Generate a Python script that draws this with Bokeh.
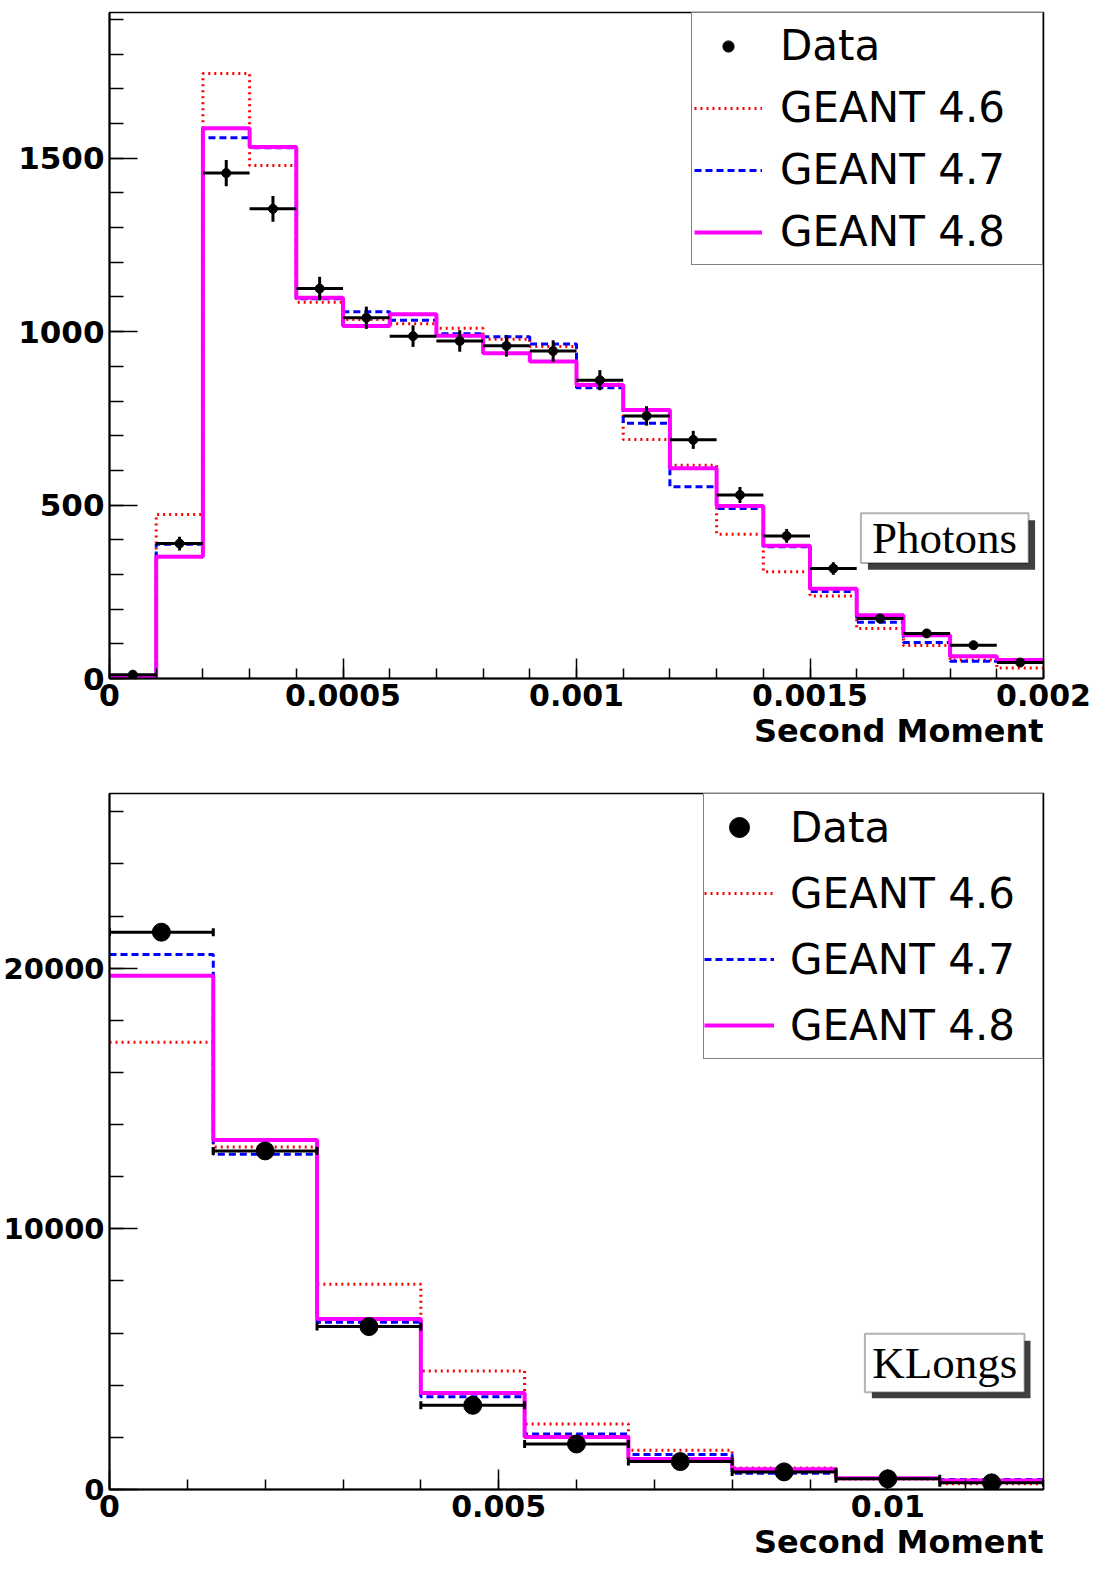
import numpy as np
from bokeh.plotting import figure
from bokeh.layouts import column
from bokeh.models import (ColumnDataSource, FixedTicker, Legend, LegendItem, Whisker,
                          BoxAnnotation, Label, Range1d, TeeHead, Title)
from bokeh.embed import file_html
from bokeh.resources import INLINE

# ---- Photons: second moment, 20 bins on [0, 0.002] ----
photon_xrange = (0.0, 0.002)
photon_yrange = (0.0, 1920.0)
photon_nbins = 20
photon_data = [11, 389, 1457, 1354, 1124, 1040, 987, 973, 959, 944,
               860, 757, 688, 529, 411, 317, 173, 130, 96, 46]
photon_data_err = [3, 20, 38, 37, 34, 32, 31, 31, 31, 31,
                   29, 28, 26, 23, 20, 18, 13, 11, 10, 7]
photon_g46 = [5, 473, 1744, 1479, 1085, 1035, 1023, 1010, 978, 957,
              848, 689, 615, 416, 308, 238, 144, 95, 53, 30]
photon_g47 = [5, 387, 1559, 1530, 1095, 1057, 1033, 994, 985, 964,
              838, 736, 553, 490, 380, 251, 162, 104, 50, 53]
photon_g48 = [5, 351, 1586, 1532, 1098, 1016, 1050, 988, 938, 914,
              846, 774, 606, 497, 383, 259, 182, 125, 64, 53]
photon_xticks = [0, 0.0005, 0.001, 0.0015, 0.002]
photon_xtick_labels = ["0", "0.0005", "0.001", "0.0015", "0.002"]
photon_yticks = [0, 500, 1000, 1500]

# ---- KLongs: second moment, 9 bins on [0, 0.012] ----
klong_xrange = (0.0, 0.012)
klong_yrange = (0.0, 26700.0)
klong_nbins = 9
klong_data = [21380, 12990, 6250, 3230, 1746, 1070, 676, 409, 255]
klong_data_err = [146, 114, 79, 57, 42, 33, 26, 20, 16]
klong_g46 = [17160, 13140, 7870, 4550, 2510, 1505, 829, 400, 217]
klong_g47 = [20520, 12860, 6420, 3560, 2128, 1340, 627, 420, 382]
klong_g48 = [19710, 13410, 6540, 3700, 2014, 1173, 779, 435, 344]
klong_xticks = [0, 0.005, 0.01]
klong_xtick_labels = ["0", "0.005", "0.01"]
klong_yticks = [0, 10000, 20000]

x_title = "Second Moment"
series_names = ["GEANT 4.6", "GEANT 4.7", "GEANT 4.8"]
series_styles = [
    dict(line_color="#ff0000", line_width=3, line_dash="2 4"),
    dict(line_color="#0000ff", line_width=3, line_dash="7 4"),
    dict(line_color="#ff00ff", line_width=4),
]

BOLD_FONT = "DejaVu Sans"


def make_panel(height, border_top, border_bottom, xr, yr, nbins, data, err, sims,
               xticks, xlabels, xminor, yticks, yminor, ylabel_size, marker_size, capped,
               legend_opts, tag_text, tag_box, tag_shadow, tag_pos):
    p = figure(width=1102, height=height,
               x_range=Range1d(*xr), y_range=Range1d(*yr),
               output_backend="svg", toolbar_location=None,
               min_border_left=107, min_border_right=59,
               min_border_top=border_top, min_border_bottom=border_bottom)
    p.grid.visible = False
    p.outline_line_color = "black"
    p.outline_line_width = 1.5
    p.background_fill_color = "white"
    p.border_fill_color = "white"

    edges = np.linspace(xr[0], xr[1], nbins + 1)
    centers = 0.5 * (edges[:-1] + edges[1:])

    # simulated histograms as step outlines
    sim_renderers = []
    for vals, style in zip(sims, series_styles):
        src = ColumnDataSource(dict(x=edges, y=list(vals) + [vals[-1]]))
        sim_renderers.append(p.step("x", "y", source=src, mode="after", **style))

    # measured points with bin-width and statistical error bars
    d = np.asarray(data, dtype=float)
    e = np.asarray(err, dtype=float)
    dsrc = ColumnDataSource(dict(x=centers, y=d, lo=edges[:-1], hi=edges[1:],
                                 ylo=d - e, yhi=d + e))
    if capped:
        lh = TeeHead(size=8, line_width=3, line_color="black")
        uh = TeeHead(size=8, line_width=3, line_color="black")
    else:
        lh = None
        uh = None
    p.add_layout(Whisker(source=dsrc, base="y", lower="lo", upper="hi", dimension="width",
                         line_color="black", line_width=3, lower_head=lh, upper_head=uh,
                         level="overlay"))
    p.add_layout(Whisker(source=dsrc, base="x", lower="ylo", upper="yhi", dimension="height",
                         line_color="black", line_width=3, lower_head=None, upper_head=None,
                         level="overlay"))
    rdata = p.scatter("x", "y", source=dsrc, size=marker_size, color="black")

    # axes
    p.xaxis.ticker = FixedTicker(ticks=xticks, minor_ticks=xminor)
    p.yaxis.ticker = FixedTicker(ticks=yticks, minor_ticks=yminor)
    p.xaxis.major_label_overrides = dict(zip(xticks, xlabels))
    for ax in (p.xaxis[0], p.yaxis[0]):
        ax.axis_line_width = 2
        ax.axis_line_color = "black"
        ax.major_tick_out = 0
        ax.minor_tick_out = 0
        ax.major_tick_line_width = 1.5
        ax.minor_tick_line_width = 1.5
        ax.major_tick_line_color = "black"
        ax.minor_tick_line_color = "black"
        ax.major_label_text_font = BOLD_FONT
        ax.major_label_text_font_style = "bold"
        ax.major_label_text_color = "black"
        ax.major_label_standoff = 5
    p.xaxis.major_label_text_font_size = "30px"
    p.yaxis.major_label_text_font_size = ylabel_size
    p.xaxis.major_tick_in = 20
    p.xaxis.minor_tick_in = 10
    p.yaxis.major_tick_in = 28
    p.yaxis.minor_tick_in = 14

    # x-axis title, right-aligned under the tick labels
    p.add_layout(Title(text=x_title, align="right", standoff=2,
                       text_font=BOLD_FONT, text_font_style="bold",
                       text_font_size="32px", text_color="black"), "below")

    # legend
    items = [LegendItem(label="Data", renderers=[rdata])]
    items += [LegendItem(label=n, renderers=[r]) for n, r in zip(series_names, sim_renderers)]
    legend = Legend(items=items, location="top_right", margin=0,
                    label_text_font="DejaVu Sans", label_text_font_size="42px",
                    label_text_color="black",
                    border_line_color="black", border_line_width=1.5,
                    background_fill_color="white", background_fill_alpha=1.0,
                    **legend_opts)
    p.add_layout(legend)

    # sample tag with drop shadow
    p.add_layout(BoxAnnotation(left=tag_shadow[0], right=tag_shadow[1],
                               top=tag_shadow[2], bottom=tag_shadow[3],
                               fill_color="#404040", fill_alpha=1.0, line_alpha=0.0))
    p.add_layout(BoxAnnotation(left=tag_box[0], right=tag_box[1],
                               top=tag_box[2], bottom=tag_box[3],
                               fill_color="white", fill_alpha=1.0,
                               line_color="black", line_width=2))
    p.add_layout(Label(x=tag_pos[0], y=tag_pos[1], text=tag_text,
                       text_align="center", text_baseline="middle",
                       text_font="Liberation Serif", text_font_size="45px",
                       text_color="black"))
    return p


top = make_panel(
    height=758, border_top=12, border_bottom=80,
    xr=photon_xrange, yr=photon_yrange, nbins=photon_nbins,
    data=photon_data, err=photon_data_err,
    sims=[photon_g46, photon_g47, photon_g48],
    xticks=photon_xticks, xlabels=photon_xtick_labels,
    xminor=list(np.round(np.arange(0, 0.00201, 0.0001), 6)),
    yticks=photon_yticks, yminor=list(range(0, 1901, 100)),
    ylabel_size="31px", marker_size=9, capped=False,
    legend_opts=dict(padding=2, spacing=1, glyph_width=68, glyph_height=28,
                     label_height=61, label_width=260, label_standoff=18),
    tag_text="Photons",
    tag_box=(0.001609, 0.001968, 476.7, 332.8),
    tag_shadow=(0.001624, 0.001982, 456.0, 313.8),
    tag_pos=(0.001788, 404.0),
)

bottom = make_panel(
    height=811, border_top=35, border_bottom=80,
    xr=klong_xrange, yr=klong_yrange, nbins=klong_nbins,
    data=klong_data, err=klong_data_err,
    sims=[klong_g46, klong_g47, klong_g48],
    xticks=klong_xticks, xlabels=klong_xtick_labels,
    xminor=list(np.round(np.arange(0, 0.01201, 0.001), 6)),
    yticks=klong_yticks, yminor=list(range(0, 26001, 2000)),
    ylabel_size="29px", marker_size=18, capped=True,
    legend_opts=dict(padding=0, spacing=0, glyph_width=70, glyph_height=50,
                     label_height=66, label_width=252, label_standoff=16),
    tag_text="KLongs",
    tag_box=(0.009705, 0.011756, 5976.0, 3733.0),
    tag_shadow=(0.009795, 0.011833, 5709.0, 3504.0),
    tag_pos=(0.010731, 4860.0),
)

layout = column(top, bottom, spacing=0)

with open("out.html", "w") as f:
    f.write(file_html(layout, INLINE))
